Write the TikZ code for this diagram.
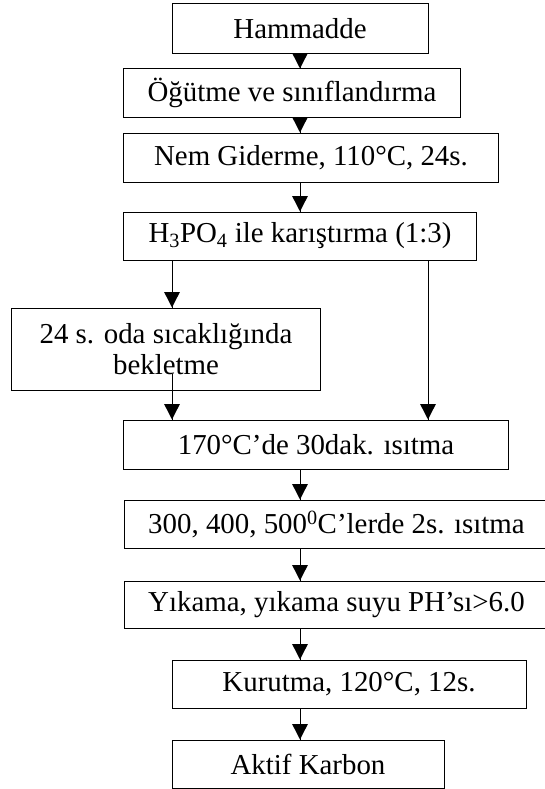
\documentclass[tikz,border=0pt]{standalone}
\usepackage{fontspec}
\setmainfont{Liberation Serif}
\usetikzlibrary{calc,arrows.meta,
                 decorations.markings}
\tikzset{->/.style = {decoration={markings, mark=at position 1 with {\arrow[scale=1.4]{Triangle[length=11bp,width=11bp]}}}, postaction={decorate}}}
\tikzset{box/.style = {draw, line width=1bp, inner sep=0pt, align=center, font=\fontsize{29}{31.5}\selectfont}}

\begin{document}
\begin{tikzpicture}[x=1bp, y=-1bp, line width=1bp]
\useasboundingbox (0,0) rectangle (545,789);
\coordinate (mid) at (300,0);
\coordinate (lft) at (172,0);
\coordinate (rgt) at (428,0);
\node[box, minimum width=256bp, minimum height=49bp] (ham) at (300,28.5) {Hammadde};
\node[box, minimum width=336bp, minimum height=48bp] (ogu) at (292,93) {Öğütme ve sınıflandırma};
\node[box, minimum width=374bp, minimum height=49bp] (nem) at (311,157.5) {Nem Giderme, 110°C, 24s.};
\node[box, minimum width=352bp, minimum height=48bp] (asit) at (300,236) {H\textsubscript{3}PO\textsubscript{4} ile karıştırma (1:3)};
\node[box, minimum width=308bp, minimum height=82bp] (bek) at (166,349) {24 s. oda sıcaklığında\\bekletme};
\node[box, minimum width=384bp, minimum height=49bp] (isit) at (316,444.5) {170°C’de 30dak. ısıtma};
\node[box, minimum width=423bp, minimum height=48bp] (kalsin) at (336.5,524) {300, 400, 500\textsuperscript{0}C’lerde 2s. ısıtma};
\node[box, minimum width=423bp, minimum height=47bp] (yika) at (336.5,604.5) {Yıkama, yıkama suyu PH’sı>6.0};
\node[box, minimum width=354bp, minimum height=48bp] (kuru) at (349,684) {Kurutma, 120°C, 12s.};
\node[box, minimum width=272bp, minimum height=48bp] (aktif) at (308,764) {Aktif Karbon};
\draw [->] (ham.south -| mid) -- (ogu.north -| mid);
\draw [->] (ogu.south -| mid) -- (nem.north -| mid);
\draw [->] (nem.south -| mid) -- (asit.north -| mid);
\draw [->] (asit.south -| lft) -- (bek.north -| lft);
\draw [->] ($(bek.south -| lft)+(0,-17)$) -- (isit.north -| lft);
\draw [->] (asit.south -| rgt) -- (isit.north -| rgt);
\draw [->] (isit.south -| mid) -- (kalsin.north -| mid);
\draw [->] (kalsin.south -| mid) -- (yika.north -| mid);
\draw [->] (yika.south -| mid) -- (kuru.north -| mid);
\draw [->] (kuru.south -| mid) -- (aktif.north -| mid);
\end{tikzpicture}
\end{document}
